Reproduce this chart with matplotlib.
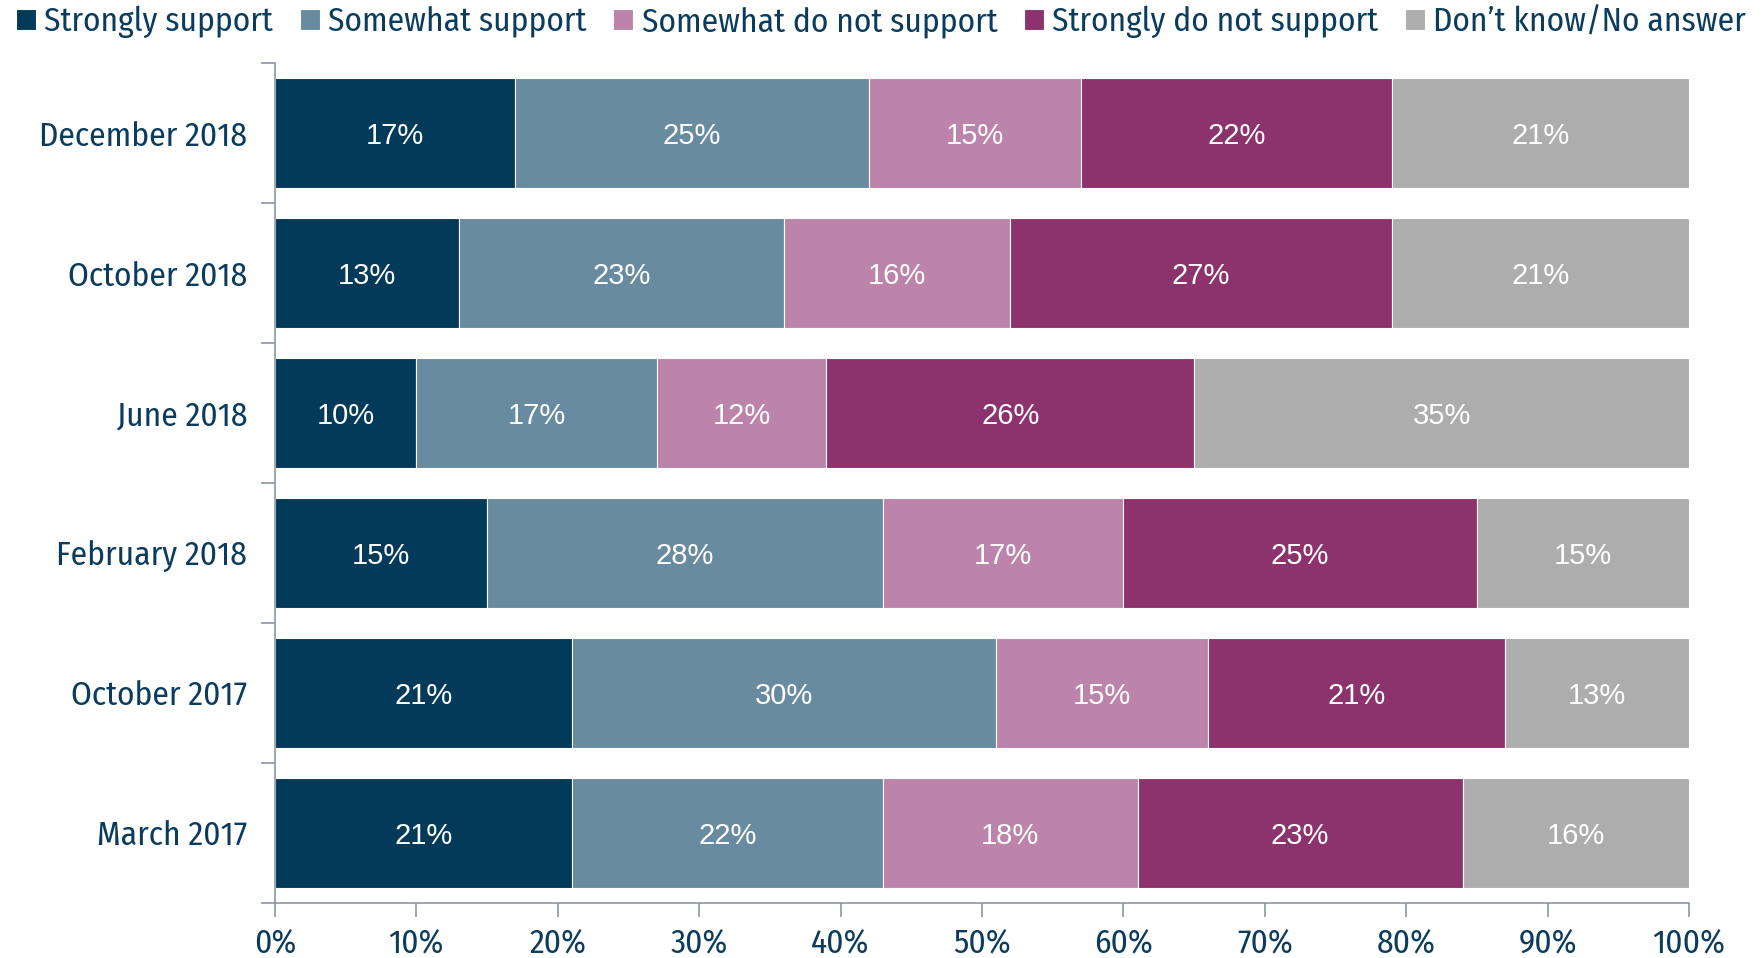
import matplotlib
matplotlib.use('Agg')
import matplotlib.pyplot as plt
from matplotlib import font_manager
import numpy as np

# data
periods = ['December 2018', 'October 2018', 'June 2018', 'February 2018', 'October 2017', 'March 2017']
series = ['Strongly support', 'Somewhat support', 'Somewhat do not support', 'Strongly do not support', 'Don\u2019t know/No answer']
strongly_support = [17, 13, 10, 15, 21, 21]
somewhat_support = [25, 23, 17, 28, 30, 22]
somewhat_not = [15, 16, 12, 17, 15, 18]
strongly_not = [22, 27, 26, 25, 21, 23]
dont_know = [21, 21, 35, 15, 13, 16]
colors = ['#033A5A', '#688BA0', '#BC84AA', '#8C326D', '#ADADAE']

# pick a condensed font close to the original
names = {f.name for f in font_manager.fontManager.ttflist}
cond = 'DejaVu Sans Condensed'
for cand in ['Fira Sans Condensed', 'Asap Condensed', 'Encode Sans Semi Condensed', 'PT Sans Narrow']:
    if cand in names:
        cond = cand
        break
txt = '#0B3C5D'
axc = '#8C95A5'

fig = plt.figure(figsize=(17.62, 9.58), dpi=100)
ax = fig.add_axes([0.156, 0.0574, 0.8026, 0.8766])

values = [strongly_support, somewhat_support, somewhat_not, strongly_not, dont_know]
y = np.arange(len(periods))
left = np.zeros(len(periods))
for vals, name, c in zip(values, series, colors):
    bars = ax.barh(y, vals, left=left, height=0.79, color=c, edgecolor='white', linewidth=0.8, label=name)
    for b, v in zip(bars, vals):
        ax.text(b.get_x() + b.get_width() / 2, b.get_y() + b.get_height() / 2 + 0.02, f'{v}%',
                ha='center', va='center', color='white', fontsize=21, family='Liberation Sans')
    left += np.array(vals)

ax.set_xlim(0, 100)
ax.set_ylim(len(periods) - 0.5, -0.5)
ax.set_xticks(np.arange(0, 101, 10))
ax.set_xticklabels([f'{t}%' for t in range(0, 101, 10)], fontsize=24, color=txt, family=cond)
ax.set_yticks(y)
ax.set_yticklabels(periods, fontsize=24, color=txt, family=cond)
ax.tick_params(axis='y', length=0, pad=20)
ax.set_yticks(np.arange(-0.5, len(periods)), minor=True)
ax.tick_params(axis='y', which='minor', length=10, color=axc, width=1.2)
ax.tick_params(axis='x', length=10, color=axc, width=1.2, pad=8)
ax.spines[['top', 'right']].set_visible(False)
ax.spines['left'].set_color(axc)
ax.spines['bottom'].set_color(axc)
ax.spines['left'].set_linewidth(1.2)
ax.spines['bottom'].set_linewidth(1.2)

leg = fig.legend(loc='upper center', bbox_to_anchor=(0.5, 1.025), ncol=5, frameon=False,
                 prop={'family': cond, 'size': 24}, handlelength=0.6, handleheight=0.6,
                 handletextpad=0.25, columnspacing=0.8)
for t in leg.get_texts():
    t.set_color(txt)

fig.savefig('out.png', dpi=100)
